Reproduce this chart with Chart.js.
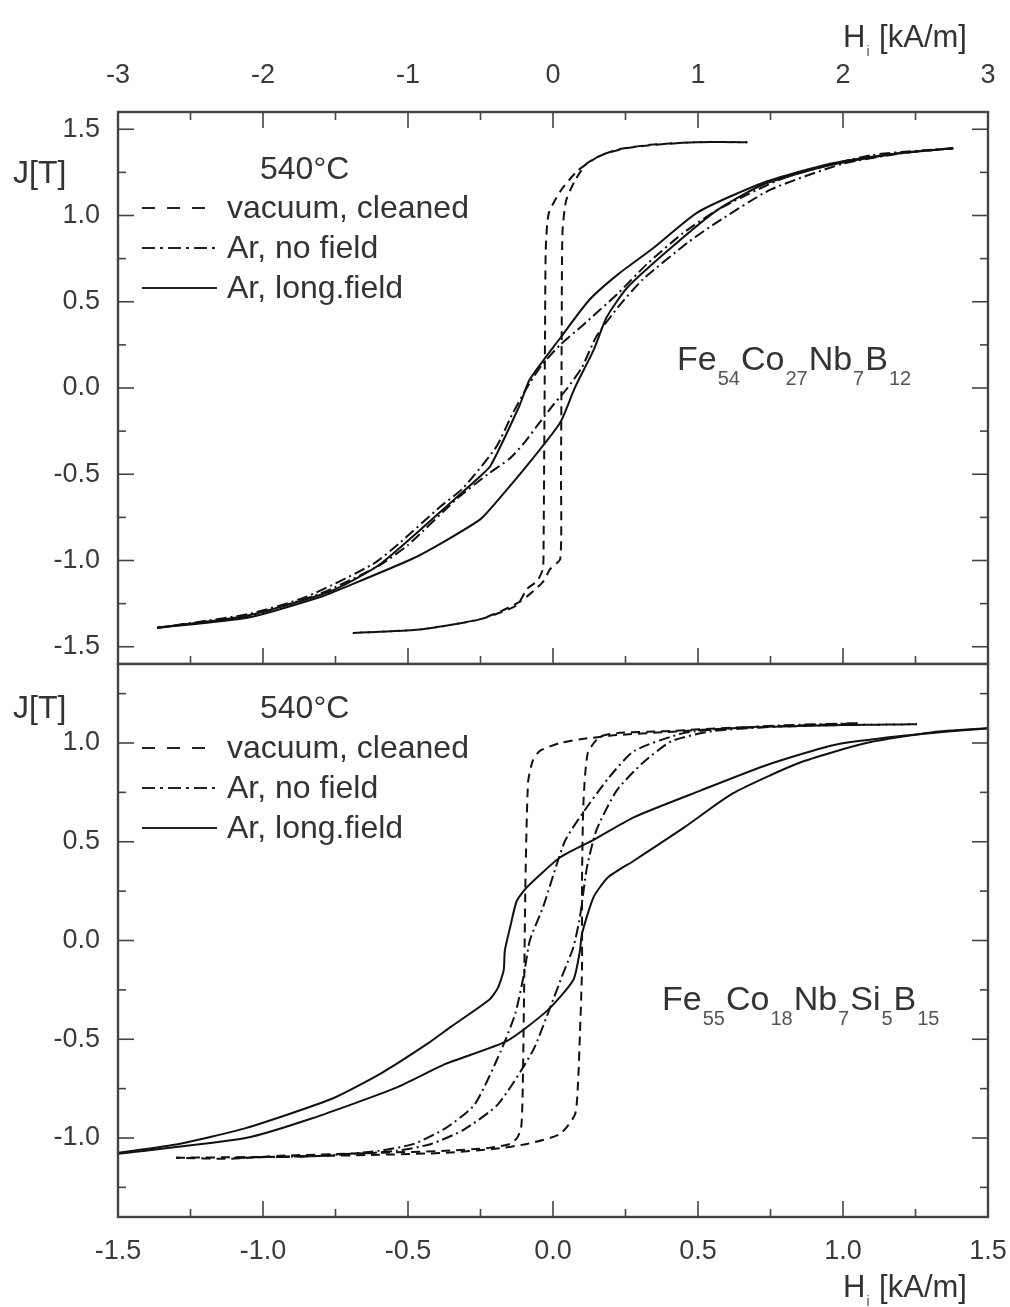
<!DOCTYPE html>
<html>
<head>
<meta charset="utf-8">
<script src="https://cdn.jsdelivr.net/npm/chart.js@4.4.0/dist/chart.umd.min.js"></script>
<style>
  html, body { margin: 0; padding: 0; background: #fff; }
  body { width: 1010px; height: 1307px; position: relative; overflow: hidden; }
  .panel { position: absolute; left: 0; width: 1010px; }
  #top-wrap { top: 0; height: 665px; }
  #bot-wrap { top: 654px; height: 653px; }
</style>
</head>
<body>
<div class="panel" id="top-wrap"><canvas id="top-chart"></canvas></div>
<div class="panel" id="bot-wrap"><canvas id="bot-chart"></canvas></div>
<script>
const FONT = '"Liberation Sans", Arial, sans-serif';
const INK = '#333';

// --- TICKS ---
const topHTicks = [-3, -2, -1, 0, 1, 2, 3];
const topHMinor = [-2.5, -1.5, -0.5, 0.5, 1.5, 2.5];
const topJTicks = [-1.5, -1.0, -0.5, 0, 0.5, 1.0, 1.5];
const botHTicks = [-1.5, -1.0, -0.5, 0, 0.5, 1.0, 1.5];
const botHMinor = [-1.25, -0.75, -0.25, 0.25, 0.75, 1.25];
const botJTicks = [-1.0, -0.5, 0, 0.5, 1.0];
const jMinor = [-1.25, -0.75, -0.25, 0.25, 0.75, 1.25];

const legendLabels = ['vacuum, cleaned', 'Ar, no field', 'Ar, long.field'];

// --- TOP PANEL: Fe54Co27Nb7B12 (H on the -3..3 scale) ---
const topVacDescH = [1.34, 1.0, 0.67, 0.46, 0.32, 0.17, 0.05, -0.03, -0.05, -0.055, -0.06, -0.065, -0.07, -0.11, -0.18, -0.25, -0.5, -0.92, -1.38];
const topVacDescJ = [1.425, 1.425, 1.41, 1.385, 1.345, 1.26, 1.14, 1.01, 0.80, 0.30, -0.30, -0.90, -1.05, -1.12, -1.165, -1.26, -1.34, -1.40, -1.42];
const topVacAscH = [-1.38, -0.92, -0.5, -0.23, -0.07, -0.02, 0.05, 0.055, 0.06, 0.065, 0.09, 0.15, 0.23, 0.35, 0.5, 0.7, 1.0, 1.34];
const topVacAscJ = [-1.42, -1.40, -1.34, -1.24, -1.125, -1.05, -0.99, -0.5, 0.3, 0.9, 1.085, 1.2, 1.30, 1.355, 1.39, 1.41, 1.425, 1.425];

const topArDescH = [2.76, 2.2, 1.6, 1.15, 0.9, 0.65, 0.45, 0.2, 0.05, -0.07, -0.16, -0.28, -0.39, -0.62, -0.78, -1.06, -1.24, -1.7, -2.1, -2.73];
const topArDescJ = [1.39, 1.35, 1.22, 1.04, 0.9, 0.72, 0.55, 0.36, 0.25, 0.14, 0.03, -0.15, -0.34, -0.58, -0.69, -0.9, -1.02, -1.21, -1.31, -1.39];
const topArAscH = [-2.73, -2.1, -1.6, -1.2, -1.0, -0.66, -0.45, -0.3, -0.2, -0.11, 0.0, 0.1, 0.2, 0.3, 0.45, 0.62, 0.94, 1.13, 1.5, 2.0, 2.4, 2.76];
const topArAscJ = [-1.39, -1.32, -1.19, -1.03, -0.91, -0.64, -0.5, -0.41, -0.32, -0.22, -0.1, 0.0, 0.12, 0.3, 0.47, 0.63, 0.85, 0.96, 1.15, 1.3, 1.36, 1.39];

const topSolidDescH = [2.76, 2.37, 1.91, 1.45, 1.0, 0.69, 0.45, 0.25, 0.05, -0.16, -0.23, -0.43, -0.5, -0.66, -1.19, -1.54, -2.11, -2.73];
const topSolidDescJ = [1.39, 1.36, 1.30, 1.19, 1.02, 0.81, 0.66, 0.51, 0.29, 0.05, -0.1, -0.45, -0.51, -0.63, -1.02, -1.18, -1.32, -1.39];
const topSolidAscH = [-2.73, -2.1, -1.6, -1.42, -0.97, -0.73, -0.5, -0.39, -0.16, 0.05, 0.15, 0.28, 0.37, 0.51, 0.81, 1.13, 1.45, 1.9, 2.37, 2.76];
const topSolidAscJ = [-1.39, -1.33, -1.21, -1.15, -0.99, -0.88, -0.76, -0.66, -0.43, -0.2, 0.0, 0.22, 0.41, 0.58, 0.81, 1.03, 1.18, 1.29, 1.36, 1.39];

// --- BOTTOM PANEL: Fe55Co18Nb7Si5B15 (H on the -1.5..1.5 scale) ---
const botVacDescH = [1.255, 0.97, 0.62, 0.39, 0.22, 0.10, 0.024, -0.045, -0.07, -0.086, -0.095, -0.10, -0.105, -0.11, -0.124, -0.148, -0.22, -0.37, -0.6, -0.94, -1.11, -1.30];
const botVacDescJ = [1.095, 1.09, 1.075, 1.055, 1.04, 1.02, 1.0, 0.96, 0.91, 0.80, 0.30, -0.30, -0.80, -0.95, -1.0, -1.03, -1.05, -1.065, -1.075, -1.09, -1.105, -1.10];
const botVacAscH = [-1.30, -0.94, -0.6, -0.37, -0.2, -0.09, 0.024, 0.076, 0.086, 0.093, 0.10, 0.10, 0.105, 0.12, 0.16, 0.22, 0.39, 0.62, 0.97, 1.255];
const botVacAscJ = [-1.10, -1.095, -1.085, -1.075, -1.055, -1.03, -0.98, -0.88, -0.73, -0.47, -0.14, 0.30, 0.70, 0.95, 1.03, 1.05, 1.06, 1.078, 1.09, 1.095];

const botArDescH = [1.05, 0.8, 0.62, 0.45, 0.28, 0.19, 0.10, 0.04, -0.034, -0.08, -0.10, -0.13, -0.18, -0.27, -0.37, -0.48, -0.6, -0.8, -1.1];
const botArDescJ = [1.10, 1.09, 1.075, 1.05, 0.96, 0.82, 0.64, 0.50, 0.17, 0.0, -0.17, -0.37, -0.56, -0.83, -0.95, -1.03, -1.065, -1.09, -1.10];
const botArAscH = [-1.1, -0.8, -0.54, -0.42, -0.31, -0.19, -0.07, -0.01, 0.034, 0.07, 0.093, 0.117, 0.15, 0.22, 0.31, 0.41, 0.55, 0.8, 1.05];
const botArAscJ = [-1.10, -1.09, -1.065, -1.03, -0.96, -0.83, -0.56, -0.34, -0.17, -0.035, 0.12, 0.37, 0.56, 0.76, 0.90, 1.01, 1.06, 1.085, 1.10];

const botSolidDescH = [1.5, 1.2, 0.97, 0.74, 0.51, 0.28, 0.14, 0.024, -0.09, -0.125, -0.148, -0.166, -0.17, -0.19, -0.22, -0.355, -0.43, -0.59, -0.76, -1.06, -1.29, -1.5];
const botSolidDescJ = [1.075, 1.035, 0.99, 0.89, 0.76, 0.625, 0.51, 0.42, 0.27, 0.20, 0.066, -0.05, -0.15, -0.24, -0.30, -0.44, -0.52, -0.67, -0.80, -0.95, -1.03, -1.075];
const botSolidAscH = [-1.5, -1.06, -0.83, -0.54, -0.37, -0.16, -0.02, 0.07, 0.093, 0.10, 0.14, 0.19, 0.28, 0.45, 0.62, 0.85, 1.08, 1.31, 1.5];
const botSolidAscJ = [-1.08, -1.0, -0.9, -0.745, -0.625, -0.51, -0.355, -0.2, -0.05, 0.035, 0.22, 0.32, 0.405, 0.57, 0.745, 0.90, 1.0, 1.055, 1.075];

// --- STYLES ---
const DASHED = [9, 6];
const DASHDOT = [11, 4, 2, 4];
const SOLID = [];

const zip = (hs, js) => hs.map((h, i) => ({ x: h, y: js[i] }));
const branch = (hs, js, dash) => ({
    data: zip(hs, js),
    borderColor: '#111',
    borderWidth: 2,
    borderDash: dash,
    pointRadius: 0,
    tension: 0.2,
    fill: false
});

// --- DRAW HELPERS ---
const seg = (ctx, x1, y1, x2, y2) => {
    ctx.beginPath();
    ctx.moveTo(x1, y1);
    ctx.lineTo(x2, y2);
    ctx.stroke();
};

// text with subscripts: parts = [[main, sub], ...]
const subText = (ctx, x, y, parts, big, small, drop) => {
    ctx.textBaseline = 'alphabetic';
    ctx.textAlign = 'left';
    parts.forEach(([main, sub]) => {
        ctx.font = `${big}px ${FONT}`;
        ctx.fillStyle = INK;
        ctx.fillText(main, x, y);
        x += ctx.measureText(main).width;
        if (sub) {
            ctx.font = `${small}px ${FONT}`;
            ctx.fillStyle = '#555';
            ctx.fillText(sub, x + 1, y + drop);
            x += ctx.measureText(sub).width + 2;
        }
    });
};

const drawLegend = (ctx, x0, headY, rowY) => {
    ctx.font = `32px ${FONT}`;
    ctx.fillStyle = INK;
    ctx.textAlign = 'left';
    ctx.textBaseline = 'alphabetic';
    ctx.fillText('540°C', x0 + 118, headY);
    const dashes = [[13, 12], [13, 5, 3, 5], []];
    legendLabels.forEach((label, i) => {
        const y = rowY + i * 40;
        ctx.save();
        ctx.strokeStyle = '#222';
        ctx.lineWidth = 2;
        ctx.setLineDash(dashes[i]);
        seg(ctx, x0, y - 10, x0 + 75, y - 10);
        ctx.restore();
        ctx.fillStyle = INK;
        ctx.font = `32px ${FONT}`;
        ctx.fillText(label, x0 + 85, y);
    });
};

const frameAndTicks = (cfg) => ({
    id: 'frameAndTicks',
    afterDatasetsDraw(chart) {
        const { ctx, chartArea: a, scales } = chart;
        const xs = scales.x, ys = scales.y;
        ctx.save();
        ctx.strokeStyle = '#444';
        ctx.lineWidth = 1.6;
        const xMarks = cfg.xMajor.map(v => [v, 16]).concat(cfg.xMinor.map(v => [v, 8]));
        const yMarks = cfg.yMajor.map(v => [v, 16]).concat(cfg.yMinor.map(v => [v, 8]));
        xMarks.forEach(([v, len]) => {
            const px = xs.getPixelForValue(v);
            if (cfg.topTicks) seg(ctx, px, a.top, px, a.top + len);
            if (cfg.bottomTicks) seg(ctx, px, a.bottom, px, a.bottom - len);
        });
        yMarks.forEach(([v, len]) => {
            const py = ys.getPixelForValue(v);
            seg(ctx, a.left, py, a.left + len, py);
            seg(ctx, a.right, py, a.right - len, py);
        });
        ctx.lineWidth = 2.4;
        ctx.strokeRect(a.left, a.top, a.right - a.left, a.bottom - a.top);
        ctx.restore();

        ctx.save();
        cfg.texts(ctx);
        ctx.restore();
    }
});

const tickFont = { family: FONT, size: 27 };

// the axes keep fixed sizes and no label overhang padding, so the plot box lands where the figure has it
const scaleX = (min, max, ticks, height, padding, fmt, position) => ({
    type: 'linear',
    position,
    min, max,
    afterBuildTicks: s => { s.ticks = ticks.map(v => ({ value: v })); },
    afterFit: s => { s.height = height; s.paddingLeft = 0; s.paddingRight = 0; },
    ticks: { font: tickFont, color: '#3a3a3a', padding, maxRotation: 0, autoSkip: false, callback: fmt },
    grid: { display: false, drawTicks: false },
    border: { display: false }
});

const scaleY = (min, max, ticks) => ({
    type: 'linear',
    min, max,
    afterBuildTicks: s => { s.ticks = ticks.map(v => ({ value: v })); },
    afterFit: s => { s.width = 118; s.paddingTop = 0; s.paddingBottom = 0; },
    ticks: { font: tickFont, color: '#3a3a3a', padding: 18, autoSkip: false, callback: v => v.toFixed(1) },
    grid: { display: false, drawTicks: false },
    border: { display: false }
});

// --- TOP CHART ---
new Chart(document.getElementById('top-chart'), {
    type: 'line',
    data: {
        datasets: [
            branch(topVacDescH, topVacDescJ, DASHED),
            branch(topVacAscH, topVacAscJ, DASHED),
            branch(topArDescH, topArDescJ, DASHDOT),
            branch(topArAscH, topArAscJ, DASHDOT),
            branch(topSolidDescH, topSolidDescJ, SOLID),
            branch(topSolidAscH, topSolidAscJ, SOLID)
        ]
    },
    options: {
        responsive: true,
        maintainAspectRatio: false,
        animation: false,
        layout: { padding: { top: 0, right: 22, bottom: 1, left: 0 } },
        plugins: { legend: { display: false }, tooltip: { enabled: false } },
        scales: {
            x: scaleX(-3, 3, topHTicks, 112, 20, v => String(v), 'top'),
            y: scaleY(-1.6, 1.6, topJTicks)
        }
    },
    plugins: [frameAndTicks({
        xMajor: topHTicks, xMinor: topHMinor, yMajor: topJTicks, yMinor: jMinor,
        topTicks: true, bottomTicks: true,
        texts: ctx => {
            subText(ctx, 843, 47, [['H', 'i'], [' [kA/m]', '']], 31, 14, 9);
            ctx.font = `32px ${FONT}`;
            ctx.fillStyle = INK;
            ctx.fillText('J[T]', 13, 183);
            drawLegend(ctx, 142, 179, 218);
            subText(ctx, 677, 370, [['Fe', '54'], ['Co', '27'], ['Nb', '7'], ['B', '12']], 34, 20, 15);
        }
    })]
});

// --- BOTTOM CHART ---
const OFF = 654;
new Chart(document.getElementById('bot-chart'), {
    type: 'line',
    data: {
        datasets: [
            branch(botVacDescH, botVacDescJ, DASHED),
            branch(botVacAscH, botVacAscJ, DASHED),
            branch(botArDescH, botArDescJ, DASHDOT),
            branch(botArAscH, botArAscJ, DASHDOT),
            branch(botSolidDescH, botSolidDescJ, SOLID),
            branch(botSolidAscH, botSolidAscJ, SOLID)
        ]
    },
    options: {
        responsive: true,
        maintainAspectRatio: false,
        animation: false,
        layout: { padding: { top: 10, right: 22, bottom: 0, left: 0 } },
        plugins: { legend: { display: false }, tooltip: { enabled: false } },
        scales: {
            x: scaleX(-1.5, 1.5, botHTicks, 90, 18, v => v.toFixed(1), 'bottom'),
            y: scaleY(-1.4, 1.4, botJTicks)
        }
    },
    plugins: [frameAndTicks({
        xMajor: botHTicks, xMinor: botHMinor, yMajor: botJTicks, yMinor: jMinor,
        topTicks: false, bottomTicks: true,
        texts: ctx => {
            subText(ctx, 843, 1297 - OFF, [['H', 'i'], [' [kA/m]', '']], 31, 14, 9);
            ctx.font = `32px ${FONT}`;
            ctx.fillStyle = INK;
            ctx.fillText('J[T]', 13, 718 - OFF);
            drawLegend(ctx, 142, 718 - OFF, 758 - OFF);
            subText(ctx, 662, 1010 - OFF, [['Fe', '55'], ['Co', '18'], ['Nb', '7'], ['Si', '5'], ['B', '15']], 34, 20, 15);
        }
    })]
});
</script>
</body>
</html>
